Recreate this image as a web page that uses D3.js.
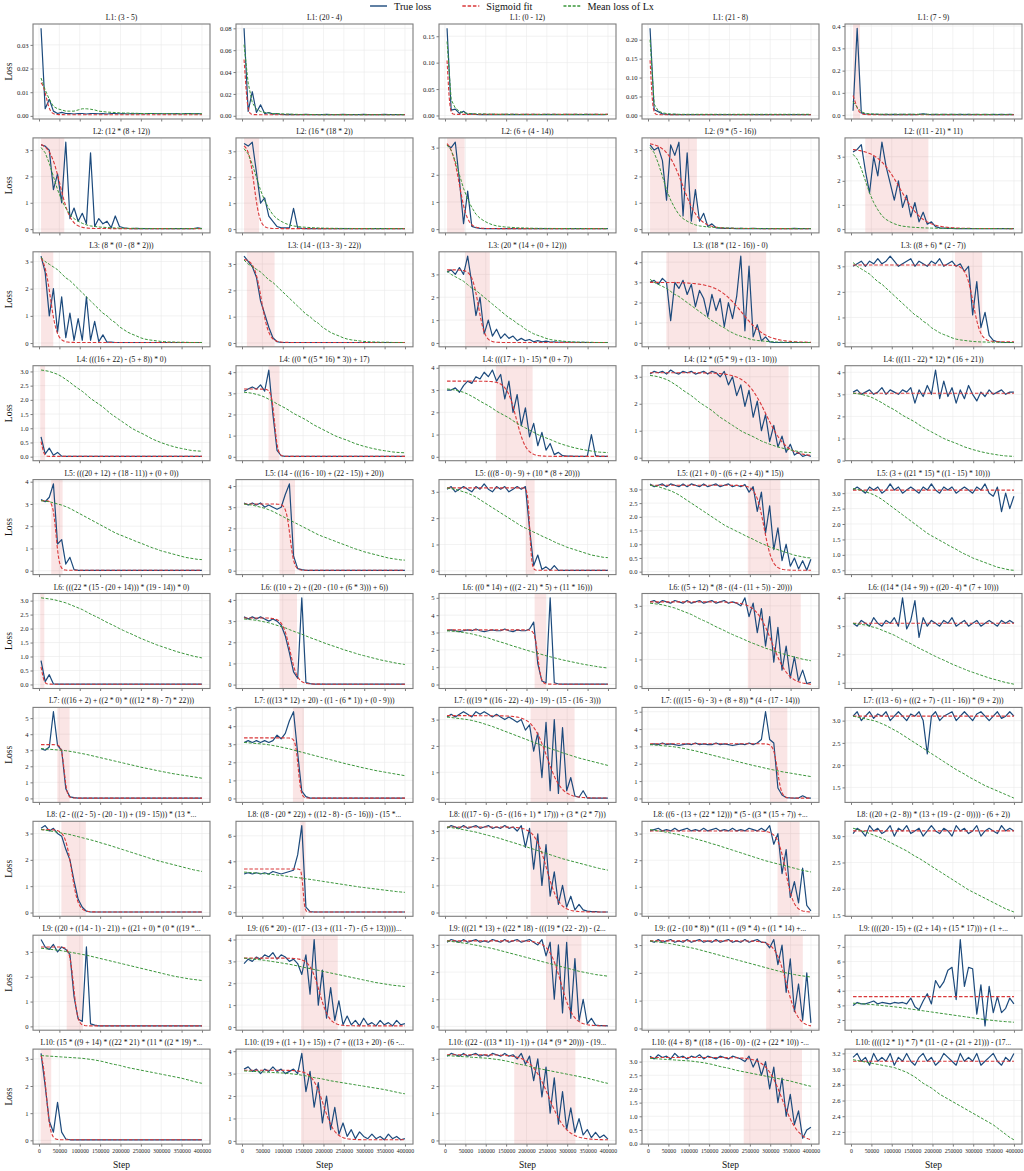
<!DOCTYPE html>
<html>
<head>
<meta charset="utf-8">
<script src="https://cdn.jsdelivr.net/npm/d3@7"></script>
<style>
  body { margin: 0; background: #fff; }
  svg { display: block; font-family: "Liberation Serif", "DejaVu Serif", serif; }
</style>
</head>
<body>
<div id="chart"></div>
<script>
// evaluation steps (40 checkpoints)
var steps = d3.range(5000, 400001, 10125);
var xTicks = d3.range(0, 400001, 50000);

var titles = [
  'L1: (3 - 5)', 'L1: (20 - 4)', 'L1: (0 - 12)', 'L1: (21 - 8)', 'L1: (7 - 9)',
  'L2: (12 * (8 + 12))', 'L2: (16 * (18 * 2))', 'L2: (6 + (4 - 14))', 'L2: (9 * (5 - 16))', 'L2: ((11 - 21) * 11)',
  'L3: (8 * (0 - (8 * 2)))', 'L3: (14 - ((13 - 3) - 22))', 'L3: (20 * (14 + (0 + 12)))', 'L3: ((18 * (12 - 16)) - 0)', 'L3: ((8 + 6) * (2 - 7))',
  'L4: (((16 + 22) - (5 + 8)) * 0)', 'L4: ((0 * ((5 * 16) * 3)) + 17)', 'L4: (((17 + 1) - 15) * (0 + 7))', 'L4: (12 * ((5 * 9) + (13 - 10)))', 'L4: (((11 - 22) * 12) * (16 + 21))',
  'L5: (((20 + 12) + (18 - 11)) + (0 + 0))', 'L5: (14 - (((16 - 10) + (22 - 15)) + 20))', 'L5: (((8 - 0) - 9) + (10 * (8 + 20)))', 'L5: ((21 + 0) - ((6 + (2 + 4)) * 15))', 'L5: (3 + ((21 * 15) * ((1 - 15) * 10)))',
  'L6: (((22 * (15 - (20 + 14))) * (19 - 14)) * 0)', 'L6: ((10 + 2) + ((20 - (10 + (6 * 3))) + 6))', 'L6: ((0 * 14) + (((2 - 21) * 5) + (11 * 16)))', 'L6: ((5 + 12) * (8 - ((4 - (11 + 5)) - 20)))', 'L6: ((14 * (14 + 9)) + ((20 - 4) * (7 + 10)))',
  'L7: (((16 + 2) + ((2 * 0) * (((12 * 8) - 7) * 22)))', 'L7: (((13 * 12) + 20) - ((1 - (6 * 1)) + (0 - 9)))', 'L7: (((19 * ((16 - 22) - 4)) - 19) - (15 - (16 - 3)))', 'L7: ((((15 - 6) - 3) + (8 + 8)) * (4 - (17 - 14)))', 'L7: ((13 - 6) + (((2 + 7) - (11 - 16)) * (9 + 2)))',
  'L8: (2 - (((2 - 5) - (20 - 1)) + (19 - 15))) * (13 *...', 'L8: ((8 - (20 * 22)) + ((12 - 8) - (5 - 16))) - (15 *...', 'L8: (((17 - 6) - (5 - ((16 + 1) * 17))) + (3 * (2 * 7)))', 'L8: ((6 - (13 + (22 * 12))) * (5 - ((3 * (15 + 7)) +...', 'L8: ((20 + (2 - 8)) * (13 + (19 - (2 - 0)))) - (6 + 2))',
  'L9: ((20 + ((14 - 1) - 21)) + ((21 + 0) * (0 * ((19 *...', 'L9: ((6 * 20) - ((17 - (13 + ((11 - 7) - (5 + 13)))))...', 'L9: (((21 * 13) + ((22 * 18) - (((19 * (22 - 2)) - (2...', 'L9: ((2 - (10 * 8)) * ((11 + ((9 * 4) + ((1 * 14) +...', 'L9: ((((20 - 15) + ((2 + 14) + (15 * 17))) + (1 +...',
  'L10: (15 * ((9 + 14) * ((22 * 21) * (11 * ((2 * 19) *...', 'L10: ((19 + ((1 + 1) + 15)) + (7 + (((13 + 20) - (6 -...', 'L10: ((22 - ((13 * 11) - 1)) + (14 * (9 * 20))) - (19...', 'L10: ((4 + 8) * ((18 + (16 - 0)) - ((2 + (22 * 10)) -...', 'L10: ((((12 * 1) * 7) * (11 - (2 + (21 + 21))) - (17...'
];

var trueLoss = [
  // L1
  [0.037,0.003,0.007,0.002,0.001,0.0015,0.001,0.001,0.0008,0.001,
   0.001,0.0008,0.001,0.001,0.0009,0.001,0.0008,0.001,0.001,0.0009,
   0.001,0.0008,0.001,0.0009,0.001,0.0008,0.001,0.001,0.0009,0.001,
   0.0008,0.001,0.0009,0.001,0.0008,0.001,0.001,0.0009,0.001,0.0008],
  [0.08,0.004,0.022,0.003,0.01,0.002,0.003,0.0015,0.002,0.0012,
   0.001,0.0012,0.001,0.0011,0.001,0.0012,0.001,0.0011,0.001,0.001,
   0.0012,0.001,0.0011,0.001,0.0012,0.001,0.001,0.0011,0.001,0.0012,
   0.001,0.0011,0.001,0.001,0.0012,0.001,0.0011,0.001,0.001,0.001],
  [0.165,0.01,0.012,0.004,0.008,0.002,0.003,0.002,0.0015,0.002,
   0.0015,0.002,0.0015,0.0015,0.002,0.0015,0.002,0.0015,0.0015,0.002,
   0.0015,0.002,0.0015,0.0015,0.002,0.0015,0.002,0.0015,0.0015,0.002,
   0.0015,0.002,0.0015,0.0015,0.002,0.0015,0.002,0.0015,0.0015,0.002],
  [0.23,0.015,0.01,0.004,0.003,0.002,0.003,0.002,0.002,0.0025,
   0.002,0.0025,0.002,0.002,0.0025,0.002,0.002,0.0025,0.002,0.002,
   0.0025,0.002,0.002,0.0025,0.002,0.002,0.0025,0.002,0.002,0.0025,
   0.002,0.002,0.0025,0.002,0.002,0.0025,0.002,0.002,0.0025,0.002],
  [0.02,0.39,0.01,0.005,0.004,0.003,0.003,0.0025,0.003,0.0025,
   0.003,0.0025,0.003,0.0025,0.003,0.0025,0.003,0.006,0.003,0.0025,
   0.003,0.0025,0.003,0.0025,0.003,0.0025,0.003,0.0025,0.003,0.0025,
   0.003,0.0025,0.003,0.0025,0.003,0.0025,0.003,0.0025,0.003,0.0025],
  // L2
  [3.2,3.15,3.0,1.5,2.1,1.0,3.3,0.4,0.8,0.3,
   0.6,0.2,2.9,0.1,0.4,0.2,0.3,0.05,0.5,0.1,
   0.05,0.03,0.02,0.03,0.02,0.02,0.02,0.02,0.02,0.02,
   0.02,0.02,0.02,0.02,0.02,0.02,0.02,0.02,0.05,0.02],
  [3.3,3.2,3.35,2.2,1.0,1.2,0.5,0.3,0.1,0.05,
   0.05,0.05,0.8,0.05,0.03,0.02,0.02,0.02,0.02,0.02,
   0.02,0.02,0.02,0.02,0.02,0.02,0.02,0.02,0.02,0.02,
   0.02,0.02,0.02,0.02,0.02,0.02,0.02,0.02,0.02,0.02],
  [3.1,3.0,3.2,1.8,0.2,1.4,0.1,0.05,0.03,0.02,
   0.02,0.02,0.02,0.02,0.02,0.02,0.02,0.02,0.02,0.02,
   0.02,0.02,0.02,0.02,0.02,0.02,0.02,0.02,0.02,0.02,
   0.02,0.02,0.02,0.02,0.02,0.02,0.02,0.02,0.02,0.02],
  [3.2,3.0,3.1,2.6,1.1,3.2,2.8,3.3,0.5,2.9,
   0.3,1.5,0.3,0.6,0.1,0.2,0.05,0.04,0.03,0.03,
   0.03,0.02,0.03,0.02,0.02,0.03,0.02,0.02,0.02,0.02,
   0.02,0.02,0.02,0.02,0.02,0.03,0.02,0.02,0.02,0.02],
  [3.2,3.3,3.5,2.4,1.5,3.0,2.2,3.6,2.6,1.9,
   1.2,2.0,0.9,1.4,0.5,1.1,0.3,0.7,0.2,0.3,
   0.1,0.05,0.04,0.03,0.03,0.02,0.02,0.02,0.02,0.02,
   0.02,0.02,0.02,0.02,0.02,0.02,0.02,0.02,0.02,0.02],
  // L3
  [3.2,2.6,1.0,2.0,0.4,1.7,0.2,1.1,0.1,0.9,
   0.1,1.7,0.1,0.8,0.05,0.3,0.03,0.03,0.02,0.02,
   0.02,0.02,0.02,0.02,0.02,0.02,0.02,0.02,0.02,0.02,
   0.02,0.02,0.02,0.02,0.02,0.02,0.02,0.02,0.02,0.02],
  [3.3,3.1,2.9,2.5,1.6,1.1,0.6,0.2,0.05,0.02,
   0.02,0.02,0.02,0.02,0.02,0.02,0.02,0.02,0.02,0.02,
   0.02,0.02,0.02,0.02,0.02,0.02,0.02,0.02,0.02,0.02,
   0.02,0.02,0.02,0.02,0.02,0.02,0.02,0.02,0.02,0.02],
  [3.1,3.2,3.0,3.3,3.0,3.8,2.6,1.2,2.0,0.4,
   1.0,0.3,0.6,0.2,0.4,0.2,0.3,0.1,0.2,0.1,
   0.15,0.05,0.1,0.05,0.08,0.04,0.05,0.03,0.04,0.03,
   0.03,0.03,0.02,0.03,0.02,0.02,0.02,0.02,0.02,0.02],
  [3.0,3.1,2.9,3.2,3.0,1.1,3.0,2.7,3.1,2.4,
   2.9,1.8,2.6,2.2,1.3,2.4,1.6,2.2,0.8,2.0,
   1.2,2.3,4.3,0.6,3.8,0.3,0.9,0.1,0.3,0.05,
   0.03,0.02,0.02,0.02,0.02,0.02,0.02,0.02,0.02,0.02],
  [3.0,3.1,3.2,3.0,3.2,3.1,3.3,3.1,3.2,3.4,
   3.2,3.0,3.1,3.2,3.3,3.0,3.2,3.1,3.0,3.2,
   3.1,3.3,3.0,3.1,3.2,3.0,3.1,2.8,3.0,1.1,
   2.4,0.6,1.2,0.3,0.1,0.05,0.03,0.02,0.02,0.02],
  // L4
  [0.7,0.1,0.3,0.05,0.15,0.02,0.01,0.01,0.01,0.01,
   0.01,0.01,0.01,0.01,0.01,0.01,0.01,0.01,0.01,0.01,
   0.01,0.01,0.01,0.01,0.01,0.01,0.01,0.01,0.01,0.01,
   0.01,0.01,0.01,0.01,0.01,0.01,0.01,0.01,0.01,0.01],
  [3.1,3.2,3.3,3.2,3.4,3.1,4.1,2.0,0.3,0.05,
   0.02,0.02,0.02,0.02,0.02,0.02,0.02,0.02,0.02,0.02,
   0.02,0.02,0.02,0.02,0.02,0.02,0.02,0.02,0.02,0.02,
   0.02,0.02,0.02,0.02,0.02,0.02,0.02,0.02,0.02,0.02],
  [3.0,3.0,3.1,2.9,3.2,3.4,3.3,3.6,3.5,3.8,
   3.6,3.9,3.4,3.7,2.6,3.4,2.0,2.8,1.4,2.2,
   0.9,1.5,0.5,1.1,0.3,0.6,0.1,0.2,0.05,0.03,
   0.03,0.02,0.02,0.02,0.02,1.0,0.05,0.02,0.02,0.02],
  [3.1,3.2,3.15,3.2,3.1,3.25,3.15,3.1,3.2,3.15,
   3.2,3.1,3.15,3.2,3.1,3.2,3.15,3.0,3.2,2.7,
   3.0,2.3,2.7,1.9,2.5,1.5,2.1,1.0,1.6,0.6,
   1.2,0.4,0.8,0.2,0.5,0.1,0.2,0.05,0.1,0.05],
  [3.1,3.2,3.0,3.1,3.2,3.0,3.1,3.3,3.0,3.2,
   3.1,3.0,3.2,3.1,3.3,2.6,3.2,2.9,3.4,3.0,
   4.1,2.8,3.6,2.9,3.3,2.6,3.2,2.8,3.4,3.0,
   2.7,3.1,2.9,3.2,3.0,3.1,3.2,3.0,3.1,3.1],
  // L5
  [3.2,3.1,3.3,3.9,1.2,1.4,0.3,0.6,0.05,0.02,
   0.02,0.02,0.02,0.02,0.02,0.02,0.02,0.02,0.02,0.02,
   0.02,0.02,0.02,0.02,0.02,0.02,0.02,0.02,0.02,0.02,
   0.02,0.02,0.02,0.02,0.02,0.02,0.02,0.02,0.02,0.02],
  [3.2,3.1,3.2,3.1,3.2,3.0,3.1,3.0,2.9,3.0,
   3.6,4.1,0.7,0.1,0.05,0.02,0.02,0.02,0.02,0.02,
   0.02,0.02,0.02,0.02,0.02,0.02,0.02,0.02,0.02,0.02,
   0.02,0.02,0.02,0.02,0.02,0.02,0.02,0.02,0.02,0.02],
  [3.1,3.2,3.0,3.1,3.2,3.1,3.0,3.2,3.1,3.3,
   3.1,3.0,3.2,3.1,3.2,3.0,3.1,3.2,3.1,3.2,
   1.6,0.2,0.6,0.05,0.15,0.02,0.2,0.02,0.02,0.02,
   0.02,0.02,0.02,0.02,0.02,0.02,0.02,0.02,0.02,0.02],
  [3.2,3.1,3.15,3.2,3.1,3.2,3.15,3.1,3.2,3.1,
   3.2,3.15,3.1,3.2,3.1,3.15,3.2,3.1,3.15,3.2,
   3.1,3.15,3.1,3.18,2.9,3.1,2.2,2.9,1.4,2.4,
   0.8,1.6,0.4,1.0,0.2,0.5,0.1,0.4,0.05,0.45],
  [3.1,3.2,3.1,3.0,3.2,3.1,3.2,3.0,3.1,3.3,
   3.1,3.2,3.0,3.1,3.2,3.1,3.0,3.2,3.1,3.3,
   3.1,3.0,3.2,3.1,3.2,3.0,3.1,3.2,3.1,3.0,
   3.2,3.1,3.3,3.0,2.9,3.2,2.4,3.0,2.5,2.9],
  // L6
  [0.85,0.1,0.35,0.02,0.01,0.01,0.01,0.01,0.01,0.01,
   0.01,0.01,0.01,0.01,0.01,0.01,0.01,0.01,0.01,0.01,
   0.01,0.01,0.01,0.01,0.01,0.01,0.01,0.01,0.01,0.01,
   0.01,0.01,0.01,0.01,0.01,0.01,0.01,0.01,0.01,0.01],
  [3.2,3.1,3.2,3.1,3.2,3.1,3.0,3.1,3.0,2.8,
   2.3,1.5,0.6,0.3,4.1,0.1,0.05,0.02,0.02,0.02,
   0.02,0.02,0.02,0.02,0.02,0.02,0.02,0.02,0.02,0.02,
   0.02,0.02,0.02,0.02,0.02,0.02,0.02,0.02,0.02,0.02],
  [3.1,3.15,3.1,3.05,3.1,3.15,3.1,3.2,3.1,3.05,
   3.1,3.15,3.1,3.1,3.2,3.1,3.05,3.15,3.1,3.1,
   3.2,3.6,1.2,0.2,0.1,5.0,0.1,0.03,0.02,0.02,
   0.02,0.02,0.02,0.02,0.02,0.02,0.02,0.02,0.02,0.02],
  [3.15,3.2,3.1,3.2,3.15,3.1,3.2,3.15,3.1,3.2,
   3.1,3.15,3.2,3.1,3.15,3.2,3.1,3.15,3.2,3.1,
   3.15,3.1,3.0,3.3,2.6,3.1,2.0,2.9,1.5,2.6,
   0.9,2.2,0.6,1.5,0.3,1.1,0.2,0.6,0.1,0.15],
  [3.1,3.0,3.2,3.1,3.0,3.3,3.1,3.0,3.2,3.1,
   3.3,3.0,4.0,2.9,3.2,3.9,2.6,3.3,3.0,3.2,
   3.1,3.0,3.2,3.1,3.3,3.0,3.1,3.2,3.0,3.1,
   3.2,3.0,3.1,3.2,3.1,3.0,3.2,3.1,3.2,3.1],
  // L7
  [3.1,3.0,3.2,5.4,3.3,3.0,0.6,0.1,0.05,0.02,
   0.02,0.02,0.02,0.02,0.02,0.02,0.02,0.02,0.02,0.02,
   0.02,0.02,0.02,0.02,0.02,0.02,0.02,0.02,0.02,0.02,
   0.02,0.02,0.02,0.02,0.02,0.02,0.02,0.02,0.02,0.02],
  [3.1,3.2,3.1,3.2,3.1,3.2,3.1,3.2,3.5,3.3,
   3.6,4.3,4.8,2.5,0.4,0.1,0.02,0.02,0.02,0.02,
   0.02,0.02,0.02,0.02,0.02,0.02,0.02,0.02,0.02,0.02,
   0.02,0.02,0.02,0.02,0.02,0.02,0.02,0.02,0.02,0.02],
  [3.1,3.2,3.1,3.2,3.3,3.2,3.1,3.3,3.2,3.3,
   3.2,3.1,3.2,3.1,3.0,3.1,3.0,2.9,3.0,2.6,
   2.8,1.8,2.5,0.8,2.9,0.3,3.0,0.2,2.7,0.3,
   0.8,0.1,0.05,0.3,0.02,0.02,0.02,0.02,0.02,0.02],
  [3.1,3.15,3.1,3.2,3.1,3.15,3.1,3.05,3.1,3.15,
   3.1,3.2,3.1,3.15,3.1,3.1,3.2,3.1,3.15,3.1,
   3.05,3.1,3.15,3.1,3.2,3.1,3.2,3.4,5.0,3.4,
   3.2,0.6,0.2,0.05,0.03,0.02,0.02,0.15,0.03,0.02],
  [3.1,3.2,3.0,3.1,3.2,3.05,3.15,3.1,3.2,3.0,
   3.1,3.2,3.1,3.0,3.15,3.1,3.2,3.0,2.25,3.1,
   3.2,3.0,3.1,3.15,3.2,3.0,3.1,3.2,3.1,3.0,
   3.15,3.2,3.1,3.0,3.1,3.2,3.05,3.1,3.2,3.1],
  // L8
  [3.2,3.3,3.1,3.2,3.0,2.9,2.4,2.0,1.2,0.5,
   0.2,0.05,0.02,0.02,0.02,0.02,0.02,0.02,0.02,0.02,
   0.02,0.02,0.02,0.02,0.02,0.02,0.02,0.02,0.02,0.02,
   0.02,0.02,0.02,0.02,0.02,0.02,0.02,0.02,0.02,0.02],
  [3.0,3.1,3.0,3.1,3.0,3.1,3.0,3.2,3.1,3.0,
   3.1,3.2,3.3,4.5,6.8,0.4,0.05,0.02,0.02,0.02,
   0.02,0.02,0.02,0.02,0.02,0.02,0.02,0.02,0.02,0.02,
   0.02,0.02,0.02,0.02,0.02,0.02,0.02,0.02,0.02,0.02],
  [3.1,3.2,3.15,3.1,3.2,3.1,3.15,3.2,3.1,3.15,
   3.2,3.1,3.15,3.1,3.2,3.1,3.15,3.0,3.2,2.4,
   3.1,1.6,2.9,1.0,2.5,0.6,1.5,0.3,1.0,0.2,
   0.6,0.1,0.3,0.1,0.05,0.03,0.03,0.02,0.02,0.02],
  [3.1,3.15,3.2,3.1,3.15,3.1,3.2,3.1,3.15,3.2,
   3.1,3.15,3.1,3.2,3.1,3.15,3.2,3.1,3.15,3.1,
   3.2,3.1,3.15,3.1,3.2,3.15,3.1,3.2,3.1,3.3,
   2.6,3.0,1.5,2.4,0.6,1.2,0.4,1.7,0.3,0.1],
  [3.05,3.15,3.1,3.0,3.2,3.1,3.15,3.05,3.1,3.2,
   3.0,3.15,3.1,3.2,3.05,3.1,3.15,3.0,3.1,3.2,
   3.1,3.05,3.15,3.1,3.0,3.2,3.1,3.15,3.05,3.1,
   3.2,3.0,3.1,3.15,3.1,3.05,3.2,3.1,3.15,3.1],
  // L9
  [3.5,3.2,3.1,3.3,3.0,3.2,3.1,2.9,1.2,0.3,
   0.2,3.2,0.1,0.05,0.02,0.02,0.02,0.02,0.02,0.02,
   0.02,0.02,0.02,0.02,0.02,0.02,0.02,0.02,0.02,0.02,
   0.02,0.02,0.02,0.02,0.02,0.02,0.02,0.02,0.02,0.02],
  [2.9,3.1,3.0,3.2,3.1,3.3,3.2,3.4,3.1,3.3,
   3.2,3.0,3.1,2.9,2.4,3.3,1.5,4.0,1.0,2.6,
   0.4,1.8,0.3,1.2,0.1,0.5,0.1,0.3,0.05,0.4,
   0.1,0.2,0.05,0.3,0.1,0.2,0.05,0.3,0.1,0.15],
  [3.1,3.2,3.15,3.1,3.2,3.1,3.15,3.2,3.1,3.15,
   3.1,3.2,3.15,3.1,3.2,3.1,3.15,3.2,3.1,3.15,
   3.2,3.1,3.0,3.2,2.6,3.1,1.0,3.0,0.5,3.1,
   0.3,2.5,0.2,1.0,0.1,0.3,0.05,0.03,0.03,0.02],
  [3.15,3.1,3.2,3.1,3.15,3.2,3.1,3.15,3.1,3.2,
   3.1,3.15,3.2,3.1,3.15,3.1,3.2,3.1,3.15,3.2,
   3.1,3.15,3.1,3.2,3.1,3.15,3.2,3.1,3.1,2.9,
   3.2,2.3,3.0,1.3,2.5,0.6,1.6,0.3,2.0,0.2],
  [3.0,3.2,3.1,3.1,3.2,3.3,3.1,3.2,3.15,3.1,
   3.2,3.15,3.2,3.1,3.5,2.9,2.7,3.3,3.8,3.1,
   4.7,4.2,4.6,5.4,5.6,3.4,7.5,4.3,5.6,5.5,
   2.4,4.4,1.6,4.3,2.5,3.6,2.5,2.8,3.5,3.1],
  // L10
  [3.2,2.0,0.7,0.3,1.4,0.3,0.05,0.02,0.02,0.02,
   0.02,0.02,0.02,0.02,0.02,0.02,0.02,0.02,0.02,0.02,
   0.02,0.02,0.02,0.02,0.02,0.02,0.02,0.02,0.02,0.02,
   0.02,0.02,0.02,0.02,0.02,0.02,0.02,0.02,0.02,0.02],
  [3.2,3.3,3.1,3.2,3.0,3.2,3.1,3.3,3.1,3.2,
   3.0,3.1,3.2,3.0,3.9,2.2,3.1,1.5,2.6,0.8,
   2.0,0.5,1.5,0.3,0.8,0.2,0.5,0.1,0.4,0.2,
   0.1,0.3,0.1,0.2,0.05,0.3,0.1,0.2,0.05,0.1],
  [3.1,3.2,3.15,3.1,3.2,3.1,3.15,3.2,3.1,3.15,
   3.1,3.2,3.15,3.1,3.2,3.1,3.15,3.0,3.2,2.8,
   3.1,2.2,3.0,1.6,2.7,1.0,2.3,0.6,1.8,0.4,
   1.2,0.3,0.8,0.2,0.4,0.1,0.3,0.1,0.2,0.05],
  [3.2,3.1,3.25,3.15,3.2,3.1,3.3,3.15,3.2,3.1,
   3.2,3.15,3.25,3.1,3.2,3.15,3.1,3.2,3.15,3.1,
   3.2,3.15,3.1,3.0,3.2,2.8,3.1,2.5,3.0,2.0,
   2.8,1.5,2.4,1.0,1.8,0.7,1.2,0.2,0.5,0.6],
  [3.15,3.2,3.1,3.15,3.05,3.2,3.1,3.15,3.1,3.2,
   3.05,3.15,3.1,3.2,3.1,3.05,3.15,3.2,3.1,3.15,
   3.05,3.1,3.2,3.15,3.1,3.05,3.2,3.1,3.15,3.1,
   3.2,3.05,3.1,3.15,3.2,3.1,3.05,3.15,3.1,3.2]
];

// mean loss of L1, one curve per panel (scales differ)
var meanLossL1 = [
  [0.016,0.011,0.007,0.004,0.003,0.0025,0.002,0.002,0.002,0.0025,
   0.003,0.003,0.0028,0.0025,0.002,0.0018,0.0016,0.0015,0.0014,0.0013,
   0.0012,0.0012,0.0011,0.0011,0.001,0.001,0.001,0.001,0.001,0.001,
   0.001,0.001,0.0009,0.0009,0.0009,0.0009,0.0009,0.0009,0.0009,0.0009],
  [0.065,0.03,0.012,0.006,0.004,0.003,0.0025,0.002,0.002,0.0018,
   0.0016,0.0015,0.0014,0.0013,0.0012,0.0012,0.0011,0.0011,0.001,0.001,
   0.001,0.001,0.001,0.001,0.001,0.001,0.001,0.001,0.001,0.001,
   0.001,0.001,0.001,0.001,0.001,0.001,0.001,0.001,0.001,0.001],
  [0.14,0.03,0.014,0.008,0.005,0.004,0.0035,0.003,0.003,0.0028,
   0.0026,0.0025,0.0024,0.0023,0.0022,0.0022,0.0021,0.0021,0.002,0.002,
   0.002,0.002,0.002,0.002,0.002,0.002,0.002,0.002,0.002,0.002,
   0.002,0.002,0.002,0.002,0.002,0.002,0.002,0.002,0.002,0.002],
  [0.2,0.03,0.012,0.007,0.005,0.004,0.0035,0.003,0.003,0.003,
   0.003,0.003,0.003,0.003,0.003,0.003,0.003,0.003,0.003,0.003,
   0.003,0.003,0.003,0.003,0.003,0.003,0.003,0.003,0.003,0.003,
   0.003,0.003,0.003,0.003,0.003,0.003,0.003,0.003,0.003,0.003],
  [0.06,0.035,0.015,0.008,0.006,0.005,0.0045,0.004,0.004,0.004,
   0.004,0.004,0.004,0.004,0.004,0.004,0.004,0.004,0.004,0.004,
   0.0035,0.0035,0.0035,0.0035,0.0035,0.0035,0.0035,0.0035,0.0035,0.0035,
   0.003,0.003,0.003,0.003,0.003,0.003,0.003,0.003,0.003,0.003]
];

// mean loss of L2 .. L10 (shared by every panel of a row)
var meanLoss = [
  [3.1,2.9,2.5,2.0,1.5,1.1,0.8,0.55,0.4,0.3,
   0.22,0.16,0.12,0.1,0.08,0.07,0.06,0.05,0.045,0.04,
   0.035,0.03,0.03,0.028,0.026,0.025,0.024,0.023,0.022,0.021,
   0.02,0.02,0.02,0.02,0.02,0.02,0.02,0.02,0.02,0.02],
  [3.15,3.0,2.9,2.8,2.7,2.55,2.4,2.3,2.15,2.0,
   1.85,1.7,1.55,1.4,1.25,1.1,1.0,0.85,0.75,0.6,
   0.5,0.4,0.33,0.27,0.2,0.15,0.12,0.1,0.08,0.06,
   0.05,0.04,0.04,0.03,0.03,0.03,0.02,0.02,0.02,0.02],
  [3.05,3.03,3.0,2.95,2.9,2.82,2.72,2.62,2.5,2.4,
   2.3,2.18,2.05,1.95,1.85,1.75,1.62,1.5,1.4,1.3,
   1.2,1.1,1.0,0.92,0.85,0.78,0.7,0.62,0.56,0.5,
   0.45,0.4,0.36,0.32,0.29,0.26,0.23,0.21,0.2,0.19],
  [3.15,3.12,3.1,3.05,3.0,2.95,2.88,2.8,2.7,2.6,
   2.5,2.4,2.3,2.2,2.1,2.0,1.9,1.8,1.7,1.62,
   1.55,1.47,1.4,1.32,1.25,1.18,1.1,1.03,0.97,0.9,
   0.85,0.8,0.75,0.7,0.65,0.6,0.57,0.54,0.51,0.5],
  [3.1,3.08,3.06,3.04,3.0,2.96,2.92,2.86,2.8,2.74,
   2.68,2.6,2.52,2.45,2.38,2.3,2.22,2.15,2.08,2.0,
   1.93,1.86,1.8,1.73,1.66,1.6,1.54,1.48,1.42,1.37,
   1.32,1.27,1.22,1.17,1.13,1.09,1.05,1.01,0.98,0.95],
  [3.1,3.08,3.06,3.04,3.02,3.0,2.97,2.93,2.89,2.84,
   2.79,2.74,2.68,2.62,2.56,2.5,2.44,2.38,2.32,2.26,
   2.2,2.14,2.08,2.02,1.96,1.9,1.85,1.8,1.74,1.69,
   1.64,1.59,1.54,1.5,1.46,1.42,1.38,1.34,1.3,1.26],
  [3.15,3.13,3.1,3.08,3.05,3.02,2.99,2.96,2.92,2.88,
   2.84,2.8,2.76,2.72,2.67,2.62,2.58,2.53,2.48,2.43,
   2.38,2.33,2.28,2.23,2.18,2.13,2.08,2.03,1.98,1.94,
   1.9,1.86,1.82,1.78,1.74,1.7,1.66,1.62,1.59,1.56],
  [3.15,3.13,3.11,3.09,3.07,3.05,3.02,2.99,2.96,2.93,
   2.9,2.87,2.83,2.79,2.75,2.71,2.67,2.63,2.59,2.55,
   2.51,2.47,2.43,2.39,2.35,2.31,2.27,2.23,2.19,2.15,
   2.11,2.07,2.03,2.0,1.97,1.94,1.91,1.89,1.87,1.85],
  [3.12,3.11,3.1,3.09,3.08,3.07,3.06,3.05,3.04,3.03,
   3.02,3.0,2.98,2.96,2.93,2.9,2.86,2.82,2.79,2.76,
   2.72,2.68,2.65,2.62,2.59,2.56,2.53,2.5,2.47,2.44,
   2.41,2.38,2.35,2.32,2.29,2.25,2.21,2.17,2.13,2.1]
];

// fitted sigmoid per panel: [upper level, lower level, midpoint step, width in steps]
var sigmoidFit = [
  [0.015,0.0005,18000,5000], [0.07,0.001,8000,3000], [0.15,0.002,7000,2500], [0.21,0.002,7000,2500], [0.12,0.002,10000,5000],
  [3.3,0.02,52000,13000], [3.3,0.02,30000,7000], [3.3,0.02,35000,10000], [3.3,0.02,85000,20000], [3.35,0.02,120000,28000],
  [3.3,0.02,28000,8000], [3.2,0.02,48000,9000], [3.2,0.02,82000,8000], [3.0,0.02,230000,30000], [3.05,0.05,300000,9000],
  [0.8,0.01,7000,3000], [3.2,0.02,80000,4000], [3.4,0.02,175000,12000], [3.15,0.05,290000,25000], [3.05,3.05,200000,10000],
  [3.15,0.02,42000,4000], [3.15,0.02,118000,5000], [3.15,0.02,208000,2500], [3.15,0.05,285000,10000], [3.1,3.1,200000,10000],
  [0.95,0.01,7000,3000], [3.15,0.02,118000,9000], [3.15,0.02,228000,4000], [3.15,0.05,305000,20000], [3.1,3.1,200000,10000],
  [3.35,0.02,62000,3500], [3.35,0.02,138000,3500], [3.15,0.02,250000,18000], [3.15,0.02,318000,5000], [3.1,3.1,200000,10000],
  [3.15,0.02,80000,8000], [3.4,0.02,150000,2000], [3.15,0.02,250000,15000], [3.1,0.05,338000,10000], [3.1,3.1,200000,10000],
  [3.2,0.02,85000,5000], [3.15,0.05,190000,12000], [3.15,0.02,285000,15000], [3.15,0.05,340000,14000], [3.6,3.6,200000,10000],
  [3.35,0.02,18000,5000], [3.15,0.05,200000,14000], [3.15,0.02,255000,22000], [3.15,0.05,330000,20000], [3.1,3.1,200000,10000]
];

// shaded transition window per panel, in steps
var transition = [
  null, null, null, null, [5000,22000],
  [5000,62000], [5000,42000], [5000,48000], [5000,120000], [35000,190000],
  [5000,35000], [12000,80000], [50000,110000], [45000,290000], [255000,322000],
  [3000,15000], [65000,92000], [125000,215000], [150000,345000], null,
  [30000,58000], [92000,130000], [198000,220000], [245000,325000], null,
  [3000,13000], [92000,135000], [220000,248000], [245000,375000], null,
  [45000,75000], [125000,152000], [210000,318000], [300000,342000], null,
  [55000,115000], [143000,156000], [210000,300000], [318000,372000], null,
  [68000,108000], [145000,235000], [248000,335000], [290000,380000], null,
  [4000,30000], [145000,245000], [170000,320000], [235000,378000], null
];

var half = [0,0.5,1,1.5,2,2.5,3];
var yTicks = [
  [0,0.01,0.02,0.03], [0,0.02,0.04,0.06,0.08], [0,0.05,0.1,0.15], [0,0.05,0.1,0.15,0.2], [0,0.1,0.2,0.3,0.4],
  [0,1,2,3], [0,1,2,3], [0,1,2,3], [0,1,2,3], [0,1,2,3],
  [0,1,2,3], [0,1,2,3], [0,1,2,3,4], [0,1,2,3,4], [0,1,2,3],
  half, [0,1,2,3,4], [0,1,2,3,4], [0,1,2,3], [0,1,2,3,4],
  [0,1,2,3,4], [0,1,2,3,4], [0,1,2,3], half, [0.5,1,1.5,2,2.5,3,3.5],
  half, [0,1,2,3,4], [0,1,2,3,4,5], [0,1,2,3], [1,2,3,4],
  [0,1,2,3,4,5], [0,1,2,3,4,5], [0,1,2,3], [0,1,2,3,4,5], [1.5,2,2.5,3],
  [0,1,2,3], [0,2,4,6], [0,1,2,3], [0,1,2,3], [1.5,2,2.5,3],
  [0,1,2,3], [0,1,2,3,4], [0,1,2,3], [0,1,2,3], [2,3,4,5,6,7],
  [0,1,2,3], [0,1,2,3,4], [0,1,2,3,4,5], [0,0.5,1,1.5,2,2.5,3,3.5], [2.2,2.4,2.6,2.8,3.0,3.2]
];

var svgWidth = 1024, svgHeight = 1171;
var panel = { left: 33, top: 24, width: 177, height: 95, dx: 203, dy: 113.9 };
var colors = { loss: '#1c4a7c', fit: '#d9383a', mean: '#3a963a', span: '#d62728', frame: '#7d7d7d', grid: '#e9e9e9' };

var svg = d3.select('#chart')
  .append('svg')
  .attr('width', svgWidth)
  .attr('height', svgHeight);

titles.forEach(function (title, k) {
  drawPanel(k);
});
createLegend();

function drawPanel(k) {
  var row = Math.floor(k / 5), col = k % 5;
  var left = panel.left + col * panel.dx;
  var top = panel.top + row * panel.dy;
  var w = panel.width, h = panel.height;

  var loss = trueLoss[k];
  var mean = row === 0 ? meanLossL1[col] : meanLoss[row - 1];
  var fit = sigmoidFit[k];
  var fitSteps = d3.range(5000, 400001, 2500);
  var fitLoss = fitSteps.map(function (s) {
    return fit[1] + (fit[0] - fit[1]) / (1 + Math.exp((s - fit[2]) / fit[3]));
  });

  var all = loss.concat(mean, fitLoss);
  var lo = d3.min(all), hi = d3.max(all), pad = (hi - lo) * 0.05;
  var x = d3.scaleLinear().domain([5000 - 19750, 400000 + 19750]).range([0, w]);
  var y = d3.scaleLinear().domain([lo - pad, hi + pad]).range([h, 0]);

  var ticks = yTicks[k].filter(function (t) { return t >= lo - pad - 1e-9 && t <= hi + pad + 1e-9; });
  var stepv = yTicks[k][1] - yTicks[k][0];
  var dec = stepv >= 1 ? 0 : (Math.round(stepv * 100) % 10 !== 0 ? 2 : 1);

  var g = svg.append('g')
    .attr('transform', 'translate(' + left + ',' + top + ')');

  // grid
  g.append('g').selectAll('line.gy')
    .data(ticks).enter().append('line')
    .attr('x1', 0).attr('x2', w)
    .attr('y1', function (d) { return y(d); }).attr('y2', function (d) { return y(d); })
    .attr('stroke', colors.grid).attr('stroke-width', 0.6);
  g.append('g').selectAll('line.gx')
    .data(xTicks).enter().append('line')
    .attr('y1', 0).attr('y2', h)
    .attr('x1', function (d) { return x(d); }).attr('x2', function (d) { return x(d); })
    .attr('stroke', colors.grid).attr('stroke-width', 0.6);

  // transition window
  if (transition[k]) {
    g.append('rect')
      .attr('x', x(transition[k][0]))
      .attr('y', 0)
      .attr('width', x(transition[k][1]) - x(transition[k][0]))
      .attr('height', h)
      .attr('fill', colors.span)
      .attr('fill-opacity', 0.12);
  }

  var line = d3.line()
    .x(function (d) { return x(d[0]); })
    .y(function (d) { return y(d[1]); });

  g.append('path')
    .datum(steps.map(function (s, i) { return [s, loss[i]]; }))
    .attr('d', line)
    .attr('fill', 'none')
    .attr('stroke', colors.loss)
    .attr('stroke-width', 1.2)
    .attr('stroke-linejoin', 'round');

  g.append('path')
    .datum(fitSteps.map(function (s, i) { return [s, fitLoss[i]]; }))
    .attr('d', line)
    .attr('fill', 'none')
    .attr('stroke', colors.fit)
    .attr('stroke-width', 1.1)
    .attr('stroke-dasharray', '3.5,1.8');

  g.append('path')
    .datum(steps.map(function (s, i) { return [s, mean[i]]; }))
    .attr('d', line)
    .attr('fill', 'none')
    .attr('stroke', colors.mean)
    .attr('stroke-width', 1.0)
    .attr('stroke-dasharray', '3,1.6');

  // axes
  var yAxis = g.append('g')
    .call(d3.axisLeft(y).tickValues(ticks).tickFormat(d3.format('.' + dec + 'f')).tickSize(2.5).tickPadding(2));
  var xAxis = g.append('g')
    .attr('transform', 'translate(0,' + h + ')')
    .call(d3.axisBottom(x).tickValues(xTicks)
      .tickFormat(row === 9 ? d3.format('d') : function () { return ''; })
      .tickSize(2.5).tickPadding(2.5));
  [yAxis, xAxis].forEach(function (ax) {
    ax.select('.domain').remove();
    ax.selectAll('.tick line').attr('stroke', '#444').attr('stroke-width', 0.7);
    ax.selectAll('.tick text')
      .attr('fill', '#222')
      .attr('font-size', 6.6)
      .attr('font-family', '"Liberation Serif", serif');
  });
  xAxis.selectAll('.tick text').attr('font-size', 5.8);

  // frame
  g.append('rect')
    .attr('width', w).attr('height', h)
    .attr('fill', 'none')
    .attr('stroke', colors.frame)
    .attr('stroke-width', 1.1);

  g.append('text')
    .attr('x', w / 2).attr('y', -4)
    .attr('text-anchor', 'middle')
    .attr('font-size', 7.6)
    .attr('fill', '#111')
    .text(titles[k]);

  if (col === 0) {
    g.append('text')
      .attr('transform', 'translate(' + (12 - left) + ',' + (h / 2) + ') rotate(-90)')
      .attr('text-anchor', 'middle')
      .attr('font-size', 9.5)
      .attr('fill', '#111')
      .text('Loss');
  }
  if (row === 9) {
    g.append('text')
      .attr('x', w / 2).attr('y', h + 24)
      .attr('text-anchor', 'middle')
      .attr('font-size', 9.5)
      .attr('fill', '#111')
      .text('Step');
  }
}

function createLegend() {
  var items = [
    { label: 'True loss', color: colors.loss, dash: null },
    { label: 'Sigmoid fit', color: colors.fit, dash: '3.5,1.8' },
    { label: 'Mean loss of Lx', color: colors.mean, dash: '3,1.6' }
  ];
  var lg = svg.append('g');
  var xpos = 0;
  items.forEach(function (d) {
    lg.append('line')
      .attr('x1', xpos).attr('x2', xpos + 17)
      .attr('y1', 6).attr('y2', 6)
      .attr('stroke', d.color)
      .attr('stroke-width', 1.4)
      .attr('stroke-dasharray', d.dash);
    var t = lg.append('text')
      .attr('x', xpos + 24).attr('y', 9.5)
      .attr('font-size', 10.2)
      .attr('fill', '#111')
      .text(d.label);
    xpos += 24 + t.node().getComputedTextLength() + 31;
  });
  var total = xpos - 31;
  lg.attr('transform', 'translate(' + (512 - total / 2) + ',0)');
}
</script>
</body>
</html>
